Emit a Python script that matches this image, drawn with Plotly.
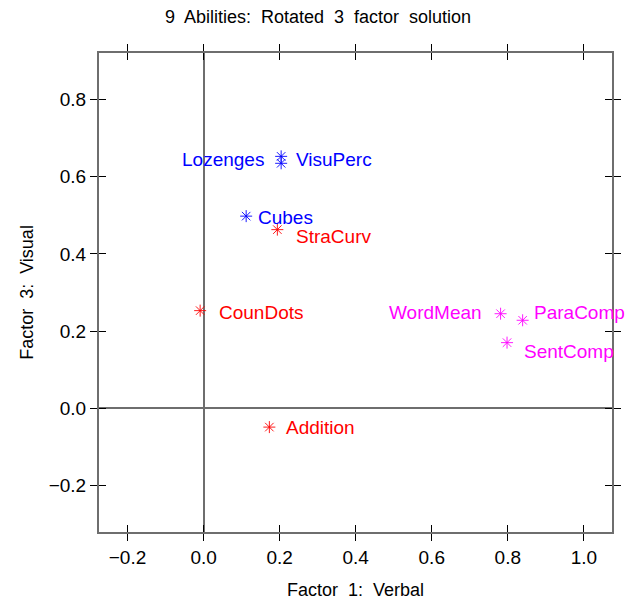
import plotly.graph_objects as go

# Data
names = ["Lozenges", "VisuPerc", "Cubes", "StraCurv", "CounDots", "Addition",
         "WordMean", "ParaComp", "SentComp"]
factor1 = [0.204, 0.204, 0.112, 0.194, -0.009, 0.173, 0.781, 0.839, 0.798]
factor3 = [0.653, 0.635, 0.498, 0.463, 0.253, -0.049, 0.245, 0.228, 0.170]
groups = ["visual", "visual", "visual", "speed", "speed", "speed",
          "verbal", "verbal", "verbal"]
tick_vals = [-0.2, 0.0, 0.2, 0.4, 0.6, 0.8, 1.0]
tick_text = ["\u22120.2", "0.0", "0.2", "0.4", "0.6", "0.8", "1.0"]
ytick_vals = [-0.2, 0.0, 0.2, 0.4, 0.6, 0.8]
ytick_text = ["\u22120.2", "0.0", "0.2", "0.4", "0.6", "0.8"]

# Styles
group_colors = {"visual": "#0000FF", "speed": "#FF0000", "verbal": "#FF00FF"}
# label placement: (anchor, xshift, yshift)
label_place = {
    "Lozenges": ("right", -15, -3),
    "VisuPerc": ("left", 13, 4),
    "Cubes": ("left", 10, -1),
    "StraCurv": ("left", 17, -7),
    "CounDots": ("left", 17, -2),
    "Addition": ("left", 15, 0),
    "WordMean": ("right", -17, 1),
    "ParaComp": ("left", 9, 8),
    "SentComp": ("left", 15, -9),
}
FONT = "Liberation Sans, Arial, Helvetica, sans-serif"
SP = "\u00a0 "

fig = go.Figure()
for g in ["visual", "speed", "verbal"]:
    idx = [i for i, gg in enumerate(groups) if gg == g]
    fig.add_trace(go.Scatter(
        x=[factor1[i] for i in idx], y=[factor3[i] for i in idx],
        mode="markers",
        marker=dict(symbol="asterisk-open", size=10, color=group_colors[g],
                    line=dict(color=group_colors[g], width=0.9)),
        showlegend=False, hoverinfo="skip",
    ))

# invisible trace for overlay axes (inside ticks)
fig.add_trace(go.Scatter(x=[factor1[0]], y=[factor3[0]], xaxis="x2", yaxis="y2",
                         mode="markers", marker=dict(opacity=0), showlegend=False,
                         hoverinfo="skip"))

for n, x, y, g in zip(names, factor1, factor3, groups):
    anc, xs, ys = label_place[n]
    fig.add_annotation(x=x, y=y, text=n, showarrow=False, xanchor=anc,
                       yanchor="middle", xshift=xs, yshift=ys,
                       font=dict(family=FONT, size=19, color=group_colors[g]))

xr = [-0.275, 1.074]
yr = [-0.321, 0.921]

title_text = SP.join(["9", "Abilities:", "Rotated", "3", "factor", "solution"])

fig.update_layout(
    width=636, height=605,
    margin=dict(l=99, r=24, t=53, b=73, autoexpand=False),
    paper_bgcolor="white", plot_bgcolor="white",
    font=dict(family=FONT, size=18, color="black"),
    title=dict(text=title_text, x=0.5, xanchor="center",
               y=1 - 17 / 605, yanchor="middle", yref="container",
               font=dict(family=FONT, size=18, color="black")),
    xaxis=dict(range=xr, tickvals=tick_vals, ticktext=tick_text, ticks="outside",
               ticklen=7, tickwidth=1, tickcolor="black", showline=True,
               linecolor="#6e6e6e", linewidth=2, mirror="ticks", showgrid=False,
               zeroline=True, zerolinecolor="#6e6e6e", zerolinewidth=1.5,
               automargin=False,
               tickfont=dict(family=FONT, size=19),
               title=dict(text="Factor" + SP + "1:" + SP + "Verbal", standoff=17,
                          font=dict(family=FONT, size=18))),
    yaxis=dict(range=yr, tickvals=ytick_vals, ticktext=ytick_text, ticks="outside",
               ticklen=7, tickwidth=1, tickcolor="black", showline=True,
               linecolor="#6e6e6e", linewidth=2, mirror="ticks", showgrid=False,
               zeroline=True, zerolinecolor="#6e6e6e", zerolinewidth=1.5,
               automargin=False,
               tickfont=dict(family=FONT, size=19),
               title=dict(text="Factor" + SP + "3:" + SP + "Visual", standoff=10,
                          font=dict(family=FONT, size=18))),
    xaxis2=dict(overlaying="x", matches="x", range=xr, tickvals=tick_vals,
                ticks="inside", ticklen=7, tickwidth=1, tickcolor="black",
                mirror="ticks", showline=False, showticklabels=False,
                showgrid=False, zeroline=False, automargin=False),
    yaxis2=dict(overlaying="y", matches="y", range=yr, tickvals=ytick_vals,
                ticks="inside", ticklen=7, tickwidth=1, tickcolor="black",
                mirror="ticks", showline=False, showticklabels=False,
                showgrid=False, zeroline=False, automargin=False),
)

fig.write_html("out.html")
